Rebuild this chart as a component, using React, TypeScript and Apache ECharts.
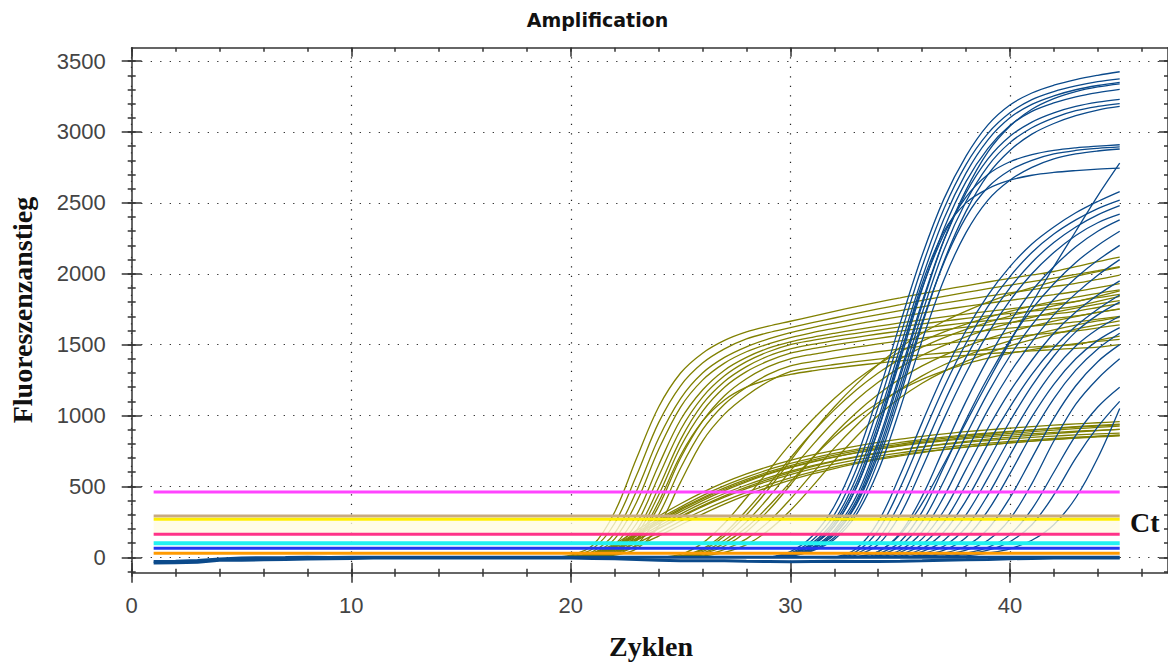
import React, { useEffect, useRef } from "react";
import * as echarts from "echarts";

// ---------- axis ticks ----------
const X_MAJOR = [0, 10, 20, 30, 40];
const X_MINOR = [0, 2, 4, 6, 8, 10, 12, 14, 16, 18, 20, 22, 24, 26, 28, 30, 32, 34, 36, 38, 40, 42, 44, 46];
const Y_MAJOR = [0, 500, 1000, 1500, 2000, 2500, 3000, 3500];
const Y_MINOR = [-100, 0, 100, 200, 300, 400, 500, 600, 700, 800, 900, 1000, 1100, 1200, 1300, 1400, 1500, 1600, 1700, 1800, 1900, 2000, 2100, 2200, 2300, 2400, 2500, 2600, 2700, 2800, 2900, 3000, 3100, 3200, 3300, 3400, 3500];
const X_MIN = 0;
const X_MAX = 47.2;
const Y_MIN = -108.6;
const Y_MAX = 3594.6;

// ---------- threshold (Ct) lines: value, spanning cycles 1..45 ----------
const THRESHOLD_SPAN = [1, 45];
const THRESHOLD_VALUES = [213, 460, 291, 268, 162, 99, 63, 28];

// ---------- baseline (cycles 1..45) ----------
const BASELINE_MAIN = [-30, -28, -22, -12, -5, -3, -2, 0, -2, 0, 0, 0, 0, 0, 0, 0, 0, 0, 0, 0, 0, 0, 0, 0, 0, 0, 0, 0, 0, 0, 0, 0, 0, 0, 0, 0, 0, 0, 0, 0, 0, 0, 0, 0, 0];
const BASELINE_LOW = [-40, -38, -35, -20, -20, -18, -15, -12, -10, -8, -5, -5, -5, -5, -5, -5, -5, -5, -5, -5, -8, -10, -15, -20, -25, -25, -25, -28, -30, -32, -30, -28, -30, -30, -28, -25, -20, -18, -15, -10, -8, -5, -5, -5, -5];

// ---------- olive group A (early), cycles 19..45 ----------
const OLIVE_A_START = 19;
const OLIVE_A = [
  [0, 15, 85, 320, 700, 1060, 1300, 1440, 1530, 1590, 1630, 1665, 1700, 1735, 1768, 1800, 1830, 1860, 1888, 1915, 1942, 1968, 1992, 2016, 2050, 2085, 2117],
  [0, 10, 60, 240, 580, 950, 1210, 1370, 1470, 1540, 1585, 1620, 1655, 1688, 1720, 1752, 1782, 1812, 1840, 1868, 1895, 1920, 1945, 1970, 1995, 2022, 2050],
  [0, 5, 40, 170, 470, 840, 1120, 1300, 1410, 1485, 1540, 1585, 1620, 1652, 1683, 1712, 1740, 1767, 1793, 1818, 1842, 1865, 1888, 1910, 1932, 1960, 1990],
  [0, 5, 30, 130, 390, 760, 1060, 1250, 1370, 1450, 1505, 1550, 1585, 1615, 1644, 1672, 1698, 1723, 1747, 1770, 1792, 1813, 1833, 1853, 1875, 1902, 1930],
  [0, 0, 20, 90, 300, 650, 970, 1180, 1320, 1410, 1475, 1520, 1552, 1580, 1606, 1630, 1653, 1675, 1696, 1716, 1735, 1753, 1770, 1787, 1805, 1840, 1880],
  [0, 0, 15, 70, 240, 570, 900, 1130, 1280, 1380, 1450, 1500, 1530, 1556, 1580, 1603, 1625, 1646, 1666, 1685, 1703, 1720, 1736, 1752, 1770, 1805, 1840],
  [0, 0, 10, 50, 190, 490, 830, 1080, 1240, 1345, 1420, 1470, 1502, 1528, 1552, 1575, 1596, 1616, 1635, 1653, 1670, 1686, 1701, 1716, 1735, 1762, 1790],
  [0, 0, 10, 40, 160, 440, 780, 1030, 1200, 1310, 1385, 1440, 1472, 1498, 1522, 1545, 1566, 1586, 1605, 1623, 1640, 1656, 1671, 1686, 1703, 1727, 1750],
  [0, 0, 5, 30, 120, 360, 700, 960, 1140, 1260, 1345, 1400, 1432, 1458, 1482, 1505, 1526, 1546, 1565, 1583, 1600, 1616, 1631, 1646, 1661, 1680, 1700],
  [0, 0, 5, 20, 90, 300, 630, 900, 1080, 1200, 1290, 1350, 1380, 1405, 1428, 1450, 1470, 1489, 1507, 1524, 1540, 1555, 1569, 1583, 1597, 1618, 1640],
  [0, 0, 0, 15, 60, 220, 530, 820, 1010, 1140, 1240, 1310, 1338, 1360, 1380, 1398, 1414, 1428, 1441, 1453, 1464, 1474, 1483, 1491, 1500, 1530, 1560],
  [0, 0, 5, 30, 130, 390, 720, 960, 1110, 1200, 1255, 1290, 1315, 1335, 1353, 1370, 1386, 1400, 1413, 1425, 1436, 1446, 1456, 1465, 1474, 1482, 1500],
];

// ---------- olive group B (flat band), cycles 20..45 ----------
const OLIVE_B_START = 20;
const OLIVE_B = [
  [0, 25, 85, 175, 270, 355, 435, 505, 565, 618, 662, 700, 733, 762, 788, 810, 830, 848, 863, 876, 888, 899, 909, 918, 926, 934],
  [0, 20, 75, 160, 250, 335, 412, 480, 540, 592, 636, 675, 708, 737, 763, 785, 805, 822, 837, 850, 862, 872, 881, 889, 896, 902],
  [0, 15, 60, 135, 220, 305, 382, 450, 510, 562, 607, 646, 680, 710, 736, 758, 778, 796, 811, 824, 836, 846, 855, 863, 870, 876],
  [0, 10, 50, 120, 200, 282, 358, 425, 485, 538, 584, 624, 658, 688, 714, 737, 757, 775, 791, 805, 817, 828, 838, 847, 855, 862],
  [0, 30, 95, 190, 290, 378, 458, 528, 588, 640, 684, 722, 755, 784, 810, 833, 853, 871, 886, 899, 911, 922, 932, 941, 949, 957],
  [0, 10, 40, 100, 175, 255, 330, 398, 458, 512, 560, 602, 638, 670, 698, 722, 743, 762, 779, 794, 807, 819, 830, 840, 849, 857],
  [0, 20, 70, 150, 238, 322, 400, 470, 532, 586, 632, 672, 707, 738, 765, 789, 810, 829, 846, 861, 874, 886, 897, 907, 916, 925],
  [0, 5, 30, 80, 150, 228, 305, 375, 438, 494, 544, 588, 626, 660, 690, 716, 739, 759, 777, 793, 807, 820, 832, 843, 853, 862],
  [0, 15, 55, 125, 205, 288, 365, 434, 495, 550, 598, 640, 676, 707, 734, 758, 780, 800, 818, 834, 848, 861, 873, 884, 894, 903],
  [0, 25, 80, 165, 258, 343, 420, 490, 550, 602, 647, 686, 720, 750, 776, 799, 820, 839, 856, 871, 885, 898, 910, 921, 931, 940],
];

// ---------- olive group C (later, moderate), cycles 24..45 ----------
const OLIVE_C_START = 24;
const OLIVE_C = [
  [0, 20, 100, 240, 420, 610, 800, 970, 1120, 1250, 1360, 1450, 1525, 1590, 1645, 1693, 1735, 1772, 1805, 1835, 1862, 1887],
  [0, 10, 60, 170, 330, 510, 700, 880, 1040, 1180, 1300, 1400, 1482, 1550, 1608, 1658, 1702, 1740, 1774, 1804, 1831, 1855],
  [0, 5, 40, 120, 250, 420, 610, 790, 960, 1110, 1235, 1340, 1425, 1495, 1555, 1607, 1652, 1692, 1727, 1758, 1786, 1811],
  [0, 0, 25, 80, 180, 330, 510, 700, 870, 1020, 1150, 1260, 1350, 1425, 1488, 1542, 1589, 1630, 1666, 1698, 1727, 1753],
  [0, 0, 15, 55, 130, 250, 410, 590, 770, 930, 1070, 1185, 1280, 1358, 1423, 1478, 1526, 1568, 1605, 1638, 1667, 1693],
  [0, 0, 10, 35, 90, 190, 330, 500, 680, 850, 1000, 1125, 1228, 1312, 1382, 1441, 1492, 1536, 1575, 1610, 1640, 1667],
  [0, 5, 30, 100, 210, 360, 530, 700, 850, 980, 1090, 1180, 1255, 1315, 1365, 1405, 1438, 1465, 1488, 1507, 1523, 1537],
  [0, 10, 50, 150, 300, 480, 680, 880, 1060, 1220, 1360, 1480, 1580, 1665, 1737, 1800, 1855, 1903, 1945, 1982, 2015, 2045],
];

// ---------- blue group D (steep, high plateau), cycles 29..45 ----------
const BLUE_D_START = 29;
const BLUE_D = [
  [0, 40, 150, 360, 700, 1150, 1650, 2130, 2530, 2830, 3050, 3190, 3275, 3330, 3370, 3400, 3425],
  [0, 30, 120, 300, 620, 1060, 1560, 2050, 2460, 2770, 2990, 3135, 3228, 3285, 3325, 3355, 3375],
  [0, 25, 100, 260, 560, 980, 1480, 1970, 2390, 2710, 2945, 3100, 3195, 3255, 3298, 3328, 3350],
  [0, 20, 85, 220, 490, 900, 1390, 1890, 2320, 2650, 2885, 3045, 3145, 3205, 3248, 3278, 3300],
  [0, 15, 70, 190, 430, 820, 1300, 1800, 2240, 2570, 2810, 2970, 3070, 3135, 3180, 3210, 3230],
  [0, 10, 60, 160, 380, 750, 1220, 1720, 2170, 2510, 2760, 2925, 3030, 3100, 3150, 3180, 3200],
  [0, 10, 50, 140, 330, 680, 1140, 1640, 2090, 2440, 2700, 2870, 2985, 3060, 3115, 3155, 3180],
  [0, 15, 65, 175, 400, 790, 1270, 1780, 2240, 2590, 2860, 3040, 3160, 3235, 3285, 3318, 3340],
  [0, 20, 90, 240, 520, 940, 1430, 1900, 2280, 2540, 2700, 2790, 2840, 2870, 2888, 2900, 2910],
  [0, 10, 60, 160, 370, 720, 1180, 1660, 2080, 2400, 2610, 2730, 2800, 2845, 2870, 2885, 2895],
  [0, 8, 45, 125, 300, 610, 1050, 1530, 1960, 2290, 2520, 2660, 2750, 2810, 2845, 2866, 2880],
  [0, 20, 85, 220, 490, 900, 1420, 1930, 2300, 2500, 2600, 2660, 2695, 2715, 2728, 2738, 2745],
];

// ---------- blue group E (late), cycles 32..45 ----------
const BLUE_E_START = 32;
const BLUE_E = [
  [0, 60, 250, 580, 950, 1300, 1600, 1850, 2050, 2210, 2330, 2430, 2510, 2580],
  [0, 40, 190, 490, 850, 1200, 1510, 1770, 1980, 2150, 2280, 2380, 2460, 2520],
  [0, 25, 130, 390, 740, 1090, 1410, 1680, 1900, 2080, 2220, 2330, 2415, 2480],
  [0, 15, 90, 300, 630, 980, 1300, 1580, 1810, 2000, 2150, 2270, 2360, 2420],
  [0, 5, 40, 160, 380, 660, 950, 1240, 1520, 1790, 2050, 2300, 2550, 2780],
  [0, 5, 40, 170, 430, 770, 1100, 1400, 1660, 1880, 2050, 2190, 2300, 2380],
  [0, 0, 25, 110, 320, 640, 970, 1270, 1530, 1750, 1930, 2080, 2200, 2300],
  [0, 0, 15, 80, 250, 540, 860, 1160, 1420, 1640, 1820, 1970, 2095, 2200],
  [0, 0, 10, 50, 180, 430, 740, 1040, 1300, 1520, 1710, 1860, 1990, 2100],
  [0, 0, 5, 35, 130, 330, 620, 910, 1170, 1390, 1580, 1730, 1850, 1950],
  [0, 0, 0, 20, 90, 250, 510, 800, 1060, 1290, 1480, 1630, 1750, 1850],
  [0, 0, 0, 10, 60, 180, 400, 680, 960, 1210, 1420, 1590, 1710, 1800],
  [0, 0, 0, 5, 40, 120, 300, 560, 840, 1100, 1320, 1490, 1610, 1700],
  [0, 0, 0, 0, 25, 80, 210, 440, 720, 990, 1220, 1400, 1530, 1620],
  [0, 0, 0, 0, 15, 50, 140, 330, 590, 870, 1120, 1320, 1470, 1580],
  [0, 0, 0, 0, 10, 30, 80, 200, 420, 700, 980, 1210, 1380, 1500],
  [0, 0, 0, 0, 5, 20, 50, 120, 270, 520, 820, 1080, 1260, 1400],
  [0, 0, 0, 0, 0, 10, 30, 70, 160, 340, 600, 860, 1060, 1200],
  [0, 0, 0, 0, 0, 5, 20, 50, 110, 230, 440, 700, 920, 1100],
  [0, 0, 0, 0, 0, 0, 10, 30, 60, 120, 230, 420, 700, 1050],
];

const OLIVE = "#808000";
const BLUE = "#0b4a8b";
const THRESHOLD_COLORS = ["#fffbe2", "#ff44ff", "#c8aa80", "#ffee00", "#ff3388", "#22f2f2", "#2238ee", "#ff9a00"];
const THRESHOLD_WIDTHS = [12, 3, 3, 3, 3, 4, 3, 3];

function toPoints(start: number, values: number[]) {
  return values.map((v, i) => [start + i, v]);
}

function curveSeries(start: number, values: number[], color: string) {
  return {
    type: "line",
    data: toPoints(start, values),
    showSymbol: false,
    symbol: "none",
    smooth: 0.35,
    silent: true,
    lineStyle: { color, width: 1.3 },
    z: 2,
  };
}

const AXIS_COLOR = "#333";
const LABEL_FONT = { fontFamily: "Liberation Sans", fontSize: 22, color: "#444" };

function xAx(extra: any) {
  return {
    type: "value",
    min: X_MIN,
    max: X_MAX,
    axisLine: { show: false, onZero: false },
    axisTick: { show: false },
    axisLabel: { show: false },
    splitLine: { show: false },
    ...extra,
  };
}
function yAx(extra: any) {
  return {
    type: "value",
    min: Y_MIN,
    max: Y_MAX,
    axisLine: { show: false, onZero: false },
    axisTick: { show: false },
    axisLabel: { show: false },
    splitLine: { show: false },
    ...extra,
  };
}

const tickStyle = { color: AXIS_COLOR, width: 1.5 };
const lineStyleAxis = { show: true, onZero: false, lineStyle: { color: AXIS_COLOR, width: 1.5 } };
const gridLine = { show: true, lineStyle: { color: "#222", width: 1.2, type: [1.2, 8.3] } };
const plainNumber = (v: number) => String(Math.round(v));

export default function App() {
  const ref = useRef<HTMLDivElement>(null);
  useEffect(() => {
    if (!ref.current) return;
    const chart = echarts.init(ref.current, undefined, { renderer: "svg" });

    const series: any[] = [];
    series.push({
      type: "line",
      data: toPoints(1, BASELINE_LOW),
      showSymbol: false,
      symbol: "none",
      silent: true,
      lineStyle: { color: BLUE, width: 3 },
    });
    OLIVE_B.forEach((c) => series.push(curveSeries(OLIVE_B_START, c, OLIVE)));
    OLIVE_A.forEach((c) => series.push(curveSeries(OLIVE_A_START, c, OLIVE)));
    OLIVE_C.forEach((c) => series.push(curveSeries(OLIVE_C_START, c, OLIVE)));
    BLUE_D.forEach((c) => series.push(curveSeries(BLUE_D_START, c, BLUE)));
    BLUE_E.forEach((c) => series.push(curveSeries(BLUE_E_START, c, BLUE)));
    THRESHOLD_VALUES.forEach((v, i) =>
      series.push({
        type: "line",
        data: THRESHOLD_SPAN.map((c) => [c, v]),
        showSymbol: false,
        symbol: "none",
        silent: true,
        lineStyle: { color: THRESHOLD_COLORS[i], width: THRESHOLD_WIDTHS[i], opacity: i === 0 ? 0.8 : 1 },
        z: 3,
      })
    );
    series.push({
      type: "line",
      data: toPoints(1, BASELINE_MAIN),
      showSymbol: false,
      symbol: "none",
      silent: true,
      lineStyle: { color: BLUE, width: 3 },
      z: 3,
    });

    chart.setOption({
      animation: false,
      backgroundColor: "#fff",
      grid: { left: 131.7, top: 47.7, width: 1038.4, height: 525, containLabel: false },
      xAxis: [
        xAx({
          position: "bottom",
          axisLine: lineStyleAxis,
          axisTick: { show: true, customValues: X_MAJOR, length: 10, lineStyle: tickStyle },
          axisLabel: { show: true, customValues: X_MAJOR, margin: 22, formatter: plainNumber, ...LABEL_FONT },
          splitLine: gridLine,
        }),
        xAx({ position: "bottom", axisTick: { show: true, inside: true, customValues: X_MAJOR, length: 10, lineStyle: tickStyle } }),
        xAx({ position: "bottom", axisTick: { show: true, customValues: X_MINOR, length: 4, lineStyle: tickStyle } }),
        xAx({ position: "bottom", axisTick: { show: true, inside: true, customValues: X_MINOR, length: 4, lineStyle: tickStyle } }),
        xAx({ position: "top", axisLine: lineStyleAxis, axisTick: { show: true, inside: true, customValues: X_MINOR, length: 4, lineStyle: tickStyle } }),
        xAx({ position: "top", axisTick: { show: true, inside: true, customValues: X_MAJOR, length: 9, lineStyle: tickStyle } }),
      ],
      yAxis: [
        yAx({
          position: "left",
          axisLine: lineStyleAxis,
          axisTick: { show: true, customValues: Y_MAJOR, length: 10, lineStyle: tickStyle },
          axisLabel: { show: true, customValues: Y_MAJOR, margin: 26, formatter: plainNumber, ...LABEL_FONT },
          splitLine: gridLine,
        }),
        yAx({ position: "left", axisTick: { show: true, inside: true, customValues: Y_MAJOR, length: 10, lineStyle: tickStyle } }),
        yAx({ position: "left", axisTick: { show: true, customValues: Y_MINOR, length: 4, lineStyle: tickStyle } }),
        yAx({ position: "left", axisTick: { show: true, inside: true, customValues: Y_MINOR, length: 4, lineStyle: tickStyle } }),
        yAx({ position: "right", axisLine: lineStyleAxis, axisTick: { show: true, inside: true, customValues: Y_MINOR, length: 4, lineStyle: tickStyle } }),
        yAx({ position: "right", axisTick: { show: true, inside: true, customValues: Y_MAJOR, length: 9, lineStyle: tickStyle } }),
      ],
      series,
      graphic: [
        {
          type: "text",
          x: 597.5,
          y: 20,
          style: { text: "Amplification", font: "bold 19px 'DejaVu Sans'", fill: "#111", textAlign: "center", textVerticalAlign: "middle" },
        },
        {
          type: "text",
          x: 651,
          y: 646,
          style: { text: "Zyklen", font: "bold 28px 'Liberation Serif'", fill: "#111", textAlign: "center", textVerticalAlign: "middle" },
        },
        {
          type: "text",
          x: 22,
          y: 310,
          rotation: Math.PI / 2,
          style: { text: "Fluoreszenzanstieg", font: "bold 28px 'Liberation Serif'", fill: "#111", textAlign: "center", textVerticalAlign: "middle" },
        },
        {
          type: "text",
          x: 1130,
          y: 522.5,
          style: { text: "Ct", font: "bold 28px 'Liberation Serif'", fill: "#111", textAlign: "left", textVerticalAlign: "middle" },
        },
      ],
    });
    return () => chart.dispose();
  }, []);
  return <div ref={ref} style={{ position: "fixed", left: 0, top: 0, width: 1168, height: 662, background: "#fff" }} />;
}
